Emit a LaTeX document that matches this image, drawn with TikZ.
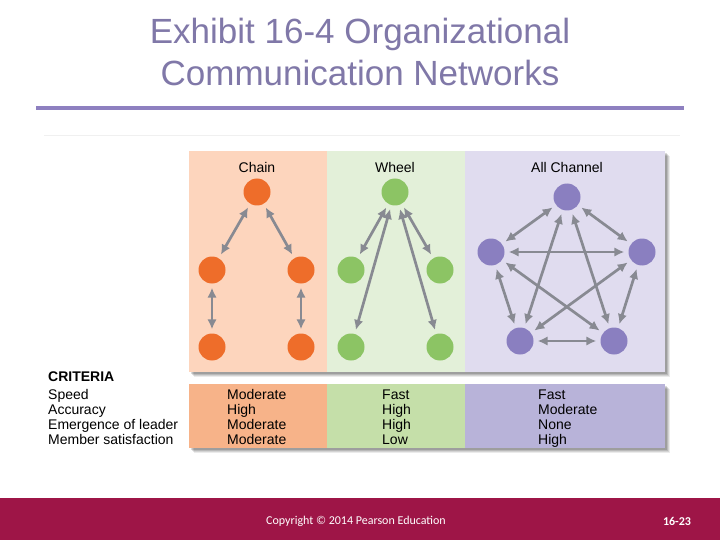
\documentclass[tikz,border=0pt]{standalone}
\usepackage{fontspec}
\setmainfont{Liberation Sans}
\newfontfamily\footfont{Carlito}
\usetikzlibrary{arrows.meta}
\definecolor{titlec}{HTML}{8078A8}
\definecolor{rulec}{HTML}{8E80C0}
\definecolor{chainbg}{HTML}{FDD5BD}
\definecolor{wheelbg}{HTML}{E3F0D9}
\definecolor{allbg}{HTML}{E0DCEF}
\definecolor{chaintb}{HTML}{F7B389}
\definecolor{wheeltb}{HTML}{C5DFA9}
\definecolor{alltb}{HTML}{B8B3D9}
\definecolor{orangen}{HTML}{EE6D2A}
\definecolor{greenn}{HTML}{8CC464}
\definecolor{purplen}{HTML}{8A7FC0}
\definecolor{arrowc}{HTML}{888A92}
\definecolor{footc}{HTML}{9E1547}
\tikzset{
  dot/.style={circle,minimum size=27pt,inner sep=0pt},
  od/.style={dot,fill=orangen},
  gd/.style={dot,fill=greenn},
  pd/.style={dot,fill=purplen},
  link/.style={draw=arrowc,line width=2.7pt,{Latex[length=10pt,width=9.5pt]}-{Latex[length=10pt,width=9.5pt]},shorten >=4pt,shorten <=4pt},
  head/.style={font=\fontsize{14}{16}\selectfont,anchor=center},
  cell/.style={font=\fontsize{14}{15}\selectfont,anchor=base west,inner sep=0pt},
}
\begin{document}
\begin{tikzpicture}[x=1pt,y=-1pt]
\useasboundingbox (0,0) rectangle (720,540);
\fill[white] (0,0) rectangle (720,540);
% title
\node[text=titlec,font=\fontsize{35}{42}\selectfont,align=center] (title) at (360,52) {Exhibit 16-4 Organizational\\Communication Networks};
\draw[rulec,line width=4pt] (36,108) -- (684,108);
\draw[black!6,line width=0.8pt] (44,135) -- (680,135);
% shadows
\foreach \o/\op in {5/0.08,4/0.1,3/0.12,2/0.14}{
  \fill[black,opacity=\op] (189+\o,151+\o) rectangle (665+\o,372+\o);
  \fill[black,opacity=\op] (189+\o,384+\o) rectangle (665+\o,448+\o);
}
% panels
\fill[chainbg] (189,151) rectangle (327,372);
\fill[wheelbg] (327,151) rectangle (465,372);
\fill[allbg] (465,151) rectangle (665,372);
\fill[chaintb] (189,384) rectangle (327,448);
\fill[wheeltb] (327,384) rectangle (465,448);
\fill[alltb] (465,384) rectangle (665,448);
% headings
\node[head] (hc) at (257,167) {Chain};
\node[head] (hw) at (395,167) {Wheel};
\node[head] (ha) at (567,167) {All Channel};
% chain
\node[od] (c1) at (257,192) {};
\node[od] (c2) at (212,270) {};
\node[od] (c3) at (301,270) {};
\node[od] (c4) at (212,347) {};
\node[od] (c5) at (301,347) {};
\draw[link] (c1) -- (c2);
\draw[link] (c1) -- (c3);
\draw[link] (c2) -- (c4);
\draw[link] (c3) -- (c5);
% wheel
\node[gd] (w1) at (395,192) {};
\node[gd] (w2) at (351,270) {};
\node[gd] (w3) at (440,270) {};
\node[gd] (w4) at (351,347) {};
\node[gd] (w5) at (440,347) {};
\draw[link] (w1) -- (w2);
\draw[link] (w1) -- (w3);
\draw[link] (w1) -- (w4);
\draw[link] (w1) -- (w5);
% all channel
\node[pd] (a1) at (567,197) {};
\node[pd] (a2) at (491,252) {};
\node[pd] (a3) at (642,252) {};
\node[pd] (a4) at (520,341) {};
\node[pd] (a5) at (614,341) {};
\draw[link] (a1) -- (a2);
\draw[link] (a1) -- (a3);
\draw[link] (a1) -- (a4);
\draw[link] (a1) -- (a5);
\draw[link] (a2) -- (a3);
\draw[link] (a2) -- (a4);
\draw[link] (a2) -- (a5);
\draw[link] (a3) -- (a4);
\draw[link] (a3) -- (a5);
\draw[link] (a4) -- (a5);
% criteria
\node[cell,font=\fontsize{14}{15}\bfseries\selectfont] (crit) at (48,381) {CRITERIA};
\foreach \i/\a/\b/\c/\d in {1/Speed/Moderate/Fast/Fast,
  2/Accuracy/High/High/Moderate,
  3/Emergence of leader/Moderate/High/None,
  4/Member satisfaction/Moderate/Low/High}{
  \node[cell] (cr\i) at (48,384+15*\i) {\a};
  \node[cell] (ch\i) at (227,384+15*\i) {\b};
  \node[cell] (wh\i) at (382,384+15*\i) {\c};
  \node[cell] (al\i) at (538,384+15*\i) {\d};
}
% footer
\fill[footc] (0,498) rectangle (720,540);
\node[text=white,font=\footfont\fontsize{12}{14}\selectfont] (copy) at (356,521) {Copyright © 2014 Pearson Education};
\node[text=white,font=\footfont\fontsize{12}{14}\bfseries\selectfont] (pg) at (677,521) {16-23};
\end{tikzpicture}
\end{document}
